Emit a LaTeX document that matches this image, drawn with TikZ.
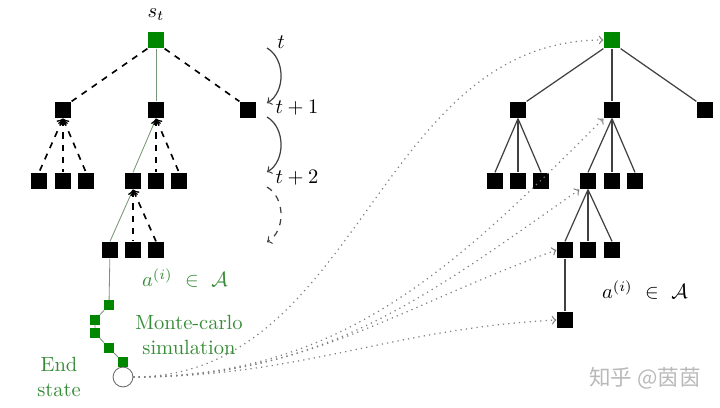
\documentclass[tikz,border=0pt]{standalone}
\usepackage{amsmath}
\usepackage{amssymb}
\usepackage{xcolor}
\usepackage{fontspec}
\newfontfamily\zhfont{Noto Sans CJK SC}
\usepackage{tikz}
\usetikzlibrary{arrows}
\usetikzlibrary{calc}
\usetikzlibrary{positioning}

\definecolor{mygreen}{RGB}{0,135,0}
\definecolor{simtext}{RGB}{55,140,55}
\definecolor{simline}{RGB}{115,150,115}

\begin{document}
\begin{tikzpicture}[x=0.0171cm, y=0.0171cm, semithick, >=to]
 	  \tikzstyle{sq}=[fill=black, draw=none, inner sep=0pt, minimum size=0.274cm]
 	  \tikzstyle{gsq}=[sq, fill=mygreen]
 	  \tikzstyle{simsq}=[fill=mygreen, draw=none, inner sep=0pt, minimum size=0.155cm]
 	  \tikzstyle{dedge}=[thick, dashed]
 	  \tikzstyle{gedge}=[thin, simline]
 	  \tikzstyle{redge}=[semithick, black!75]
 	  \tikzstyle{backup}=[dotted, gray, ->]
 	  \tikzstyle{gtext}=[text=simtext, align=center]
\useasboundingbox (0,0) rectangle (720,-407);
% tree being searched
    \node[gsq] (sL) at (156,-40) {};
    \node (stlab) at (156,-15) {$s_t$};
\foreach \i/\x in {1/63,2/156,3/248}
    \node[sq] (a\i) at (\x,-110) {};
\foreach \i/\x in {1/39,2/63,3/86}
    \node[sq] (b\i) at (\x,-181) {};
\foreach \i/\x in {1/133,2/156,3/179}
    \node[sq] (c\i) at (\x,-181) {};
\foreach \i/\x in {1/110,2/133,3/156}
    \node[sq] (d\i) at (\x,-250) {};
    \draw[dedge] (sL.south west) -- (a1.north east);
    \draw[dedge] (sL.south east) -- (a3.north west);
    \draw[gedge] (sL) -- (a2);
    \draw[gedge] (a2.south) -- (c1.north);
    \draw[gedge] (c1.south) -- (d1.north);
\foreach \i in {1,2,3}
    \draw[dedge,<-] (a1.south) -- (b\i.north);
\foreach \i in {2,3}{
    \draw[dedge,<-] (a2.south) -- (c\i.north);
    \draw[dedge,<-] (c1.south) -- (d\i.north);
      }
% rollout
    \node[simsq] (e1) at (109,-305) {};
    \node[simsq] (e2) at (95,-320) {};
    \node[simsq] (e3) at (95,-333) {};
    \node[simsq] (e4) at (109,-348) {};
    \node[simsq] (e5) at (123,-362) {};
    \node[circle, draw=black!60, thin, inner sep=0pt, minimum size=0.34cm] (endst) at (123,-377) {};
    \draw[gedge] (d1) -- (e1) -- (e2) -- (e3) -- (e4) -- (e5);
    \node[gtext] (act) at (185,-278) {$a^{(i)}\ \in\ \mathcal{A}$};
    \node[gtext] (mc) at (189,-335) {Monte-carlo\\simulation};
    \node[gtext] (endlab) at (59,-377) {End\\state};
% time steps
    \node (tlab) at (281,-42) {$t$};
    \node (t1lab) at (297,-108) {$t+1$};
    \node (t2lab) at (297,-178) {$t+2$};
\foreach \k/\y in {0/48,1/117,2/187}{
    \coordinate (k\k) at (267,-\y);
    \coordinate (m\k) at (267,-\y-55);
      }
    \draw[->, black!75] (k0) to[bend left=60] (m0);
    \draw[->, black!75] (k1) to[bend left=60] (m1);
    \draw[->, black!75, dashed] (k2) to[bend left=60] (m2);
% tree after backup
    \node[gsq] (sR) at (612,-40) {};
\foreach \i/\x in {1/518,2/612,3/705}
    \node[sq] (ra\i) at (\x,-110) {};
\foreach \i/\x in {1/495,2/518,3/541}
    \node[sq] (rb\i) at (\x,-181) {};
\foreach \i/\x in {1/588,2/612,3/635}
    \node[sq] (rc\i) at (\x,-181) {};
\foreach \i/\x in {1/565,2/588,3/612}
    \node[sq] (rd\i) at (\x,-250) {};
    \node[sq] (re) at (565,-320) {};
    \node (ract) at (645,-290) {$a^{(i)}\ \in\ \mathcal{A}$};
    \draw[redge] (sR.south west) -- (ra1.north east);
    \draw[redge] (sR) -- (ra2);
    \draw[redge] (sR.south east) -- (ra3.north west);
\foreach \i in {1,2,3}{
    \draw[redge] (ra1.south) -- (rb\i.north);
    \draw[redge] (ra2.south) -- (rc\i.north);
    \draw[redge] (rc1.south) -- (rd\i.north);
      }
    \draw[redge] (rd1) -- (re);
% backup paths
    \draw[backup] (endst.east) to[out=0,in=180] (sR.west);
    \draw[backup] (endst.east) to[out=0,in=225] (ra2.south west);
    \draw[backup] (endst.east) to[out=0,in=215] (rc1.south west);
    \draw[backup] (endst.east) to[out=0,in=200] (rd1.west);
    \draw[backup] (endst.east) to[out=0,in=183] (re.west);
    \node[text=gray!55] (wm) at (645,-378) {\zhfont\fontsize{10.5}{12}\selectfont 知乎 @茵茵};
   \end{tikzpicture}
\end{document}
